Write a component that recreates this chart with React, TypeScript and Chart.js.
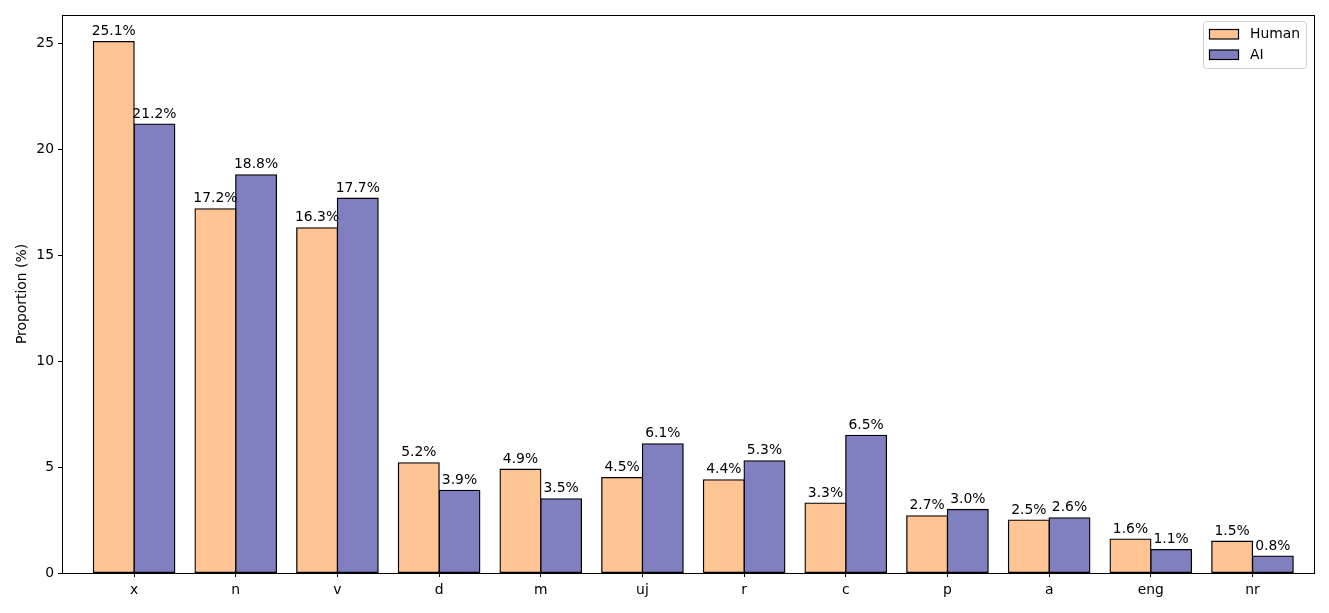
import React, { useEffect, useRef } from "react";
import { Chart, registerables } from "chart.js";

Chart.register(...registerables);

const categories = ["x", "n", "v", "d", "m", "uj", "r", "c", "p", "a", "eng", "nr"];
const humanValues = [25.1, 17.2, 16.3, 5.2, 4.9, 4.5, 4.4, 3.3, 2.7, 2.5, 1.6, 1.5];
const aiValues = [21.2, 18.8, 17.7, 3.9, 3.5, 6.1, 5.3, 6.5, 3.0, 2.6, 1.1, 0.8];
const yTicks = [0, 5, 10, 15, 20, 25];
const seriesNames = ["Human", "AI"];

const HUMAN_COLOR = "rgb(255,196,147)";
const AI_COLOR = "rgb(128,128,192)";
const FONT = "'DejaVu Sans', sans-serif";
const FS = 13.9;

const framePlugin = {
  id: "frame",
  afterDatasetsDraw(chart: any) {
    const { ctx, chartArea } = chart;
    ctx.save();
    // value labels
    ctx.font = `${FS}px ${FONT}`;
    ctx.fillStyle = "#000";
    ctx.textAlign = "center";
    ctx.textBaseline = "alphabetic";
    chart.data.datasets.forEach((ds: any, di: number) => {
      const meta = chart.getDatasetMeta(di);
      meta.data.forEach((el: any, i: number) => {
        const v = ds.data[i].y;
        ctx.fillText(v.toFixed(1) + "%", el.x, el.y - 6.5);
      });
    });
    // frame
    ctx.strokeStyle = "#000";
    ctx.lineWidth = 1;
    ctx.strokeRect(
      Math.round(chartArea.left) + 0.5,
      Math.round(chartArea.top) + 0.5,
      Math.round(chartArea.right - chartArea.left),
      Math.round(chartArea.bottom - chartArea.top)
    );
    // y-axis title
    ctx.save();
    ctx.translate(22, (chartArea.top + chartArea.bottom) / 2);
    ctx.rotate(-Math.PI / 2);
    ctx.textAlign = "center";
    ctx.textBaseline = "middle";
    ctx.fillText("Proportion (%)", 0, 0);
    ctx.restore();
    // legend
    const bx = 1203.5, by = 21.5, bw = 103, bh = 47, r = 3;
    ctx.fillStyle = "rgba(255,255,255,0.8)";
    ctx.strokeStyle = "#d0d0d0";
    ctx.lineWidth = 1;
    ctx.beginPath();
    ctx.moveTo(bx + r, by);
    ctx.lineTo(bx + bw - r, by);
    ctx.arcTo(bx + bw, by, bx + bw, by + r, r);
    ctx.lineTo(bx + bw, by + bh - r);
    ctx.arcTo(bx + bw, by + bh, bx + bw - r, by + bh, r);
    ctx.lineTo(bx + r, by + bh);
    ctx.arcTo(bx, by + bh, bx, by + bh - r, r);
    ctx.lineTo(bx, by + r);
    ctx.arcTo(bx, by, bx + r, by, r);
    ctx.closePath();
    ctx.fill();
    ctx.stroke();
    const colors = [HUMAN_COLOR, AI_COLOR];
    const rowsY = [29, 49.5];
    seriesNames.forEach((name, i) => {
      ctx.fillStyle = colors[i];
      ctx.fillRect(1209.5, rowsY[i] + 0.5, 29, 9.5);
      ctx.strokeStyle = "#000";
      ctx.lineWidth = 1.2;
      ctx.strokeRect(1209.5, rowsY[i] + 0.5, 29, 9.5);
      ctx.fillStyle = "#000";
      ctx.textAlign = "left";
      ctx.textBaseline = "middle";
      ctx.fillText(name, 1250, rowsY[i] + 5.5);
    });
    ctx.restore();
  },
};

export default function App() {
  const ref = useRef<HTMLCanvasElement>(null);
  useEffect(() => {
    document.body.style.margin = "0";
    document.body.style.overflow = "hidden";
    const canvas = ref.current!;
    const chart = new Chart(canvas, {
      type: "bar",
      data: {
        datasets: [
          {
            label: seriesNames[0],
            data: humanValues.map((v, i) => ({ x: i, y: v })),
            backgroundColor: HUMAN_COLOR,
            borderColor: "#000",
            borderWidth: 1.3,
            borderSkipped: false,
            inflateAmount: 0.65,
          },
          {
            label: seriesNames[1],
            data: aiValues.map((v, i) => ({ x: i, y: v })),
            backgroundColor: AI_COLOR,
            borderColor: "#000",
            borderWidth: 1.3,
            borderSkipped: false,
            inflateAmount: 0.65,
          },
        ],
      },
      options: {
        responsive: false,
        animation: false,
        devicePixelRatio: 1,
        categoryPercentage: 0.8,
        barPercentage: 1.0,
        layout: { padding: { left: 0, top: 15, right: 15, bottom: 0 } },
        plugins: {
          legend: { display: false },
          tooltip: { enabled: false },
        },
        scales: {
          x: {
            type: "linear",
            min: -0.709,
            max: 11.605,
            offset: false,
            afterBuildTicks: (scale: any) => {
              scale.ticks = categories.map((_, i) => ({ value: i }));
            },
            afterFit: (scale: any) => {
              scale.height = 40;
            },
            ticks: {
              autoSkip: false,
              maxRotation: 0,
              padding: 5,
              color: "#000",
              font: { family: FONT, size: FS },
              callback: (v: any) => categories[Math.round(v)] ?? "",
            },
            grid: {
              display: true,
              offset: false,
              drawOnChartArea: false,
              drawTicks: true,
              tickLength: 4,
              color: "#000",
              lineWidth: 1,
            },
            border: { display: false },
          },
          y: {
            type: "linear",
            min: 0,
            max: 26.355,
            afterBuildTicks: (scale: any) => {
              scale.ticks = yTicks.map((v) => ({ value: v }));
            },
            afterFit: (scale: any) => {
              scale.width = 62;
            },
            ticks: {
              padding: 4,
              color: "#000",
              font: { family: FONT, size: FS },
              callback: (v: any) => String(v),
            },
            grid: {
              display: true,
              offset: false,
              drawOnChartArea: false,
              drawTicks: true,
              tickLength: 4,
              color: "#000",
              lineWidth: 1,
            },
            border: { display: false },
          },
        },
      } as any,
      plugins: [framePlugin],
    });
    return () => chart.destroy();
  }, []);
  return (
    <div style={{ width: 1329, height: 613, background: "#fff" }}>
      <canvas ref={ref} width={1329} height={613} style={{ display: "block" }} />
    </div>
  );
}
